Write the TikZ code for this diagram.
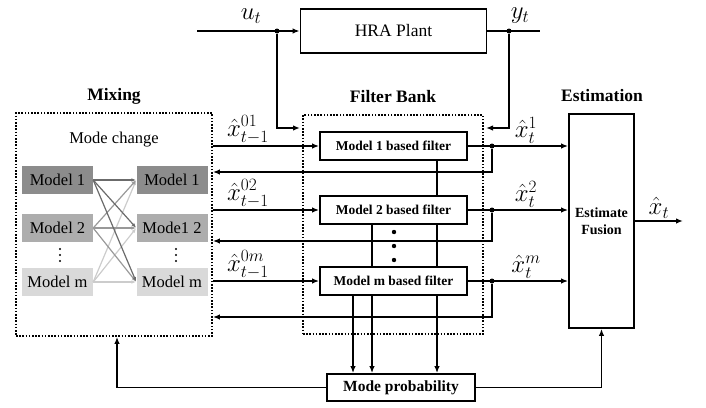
\documentclass[tikz,border=0pt]{standalone}
\usepackage{fontspec}
\setmainfont{Liberation Serif}
\usetikzlibrary{arrows.meta}

\begin{document}
\begin{tikzpicture}[
    x=1pt, y=-1pt,
    block/.style={
        rectangle,
        draw=black,
        line width=1.8pt,
        inner sep=0pt
    },
    filter/.style={
        block,
        minimum width=147pt,
        minimum height=28pt,
        font=\fontsize{13.5}{15}\selectfont\bfseries
    },
    model/.style={
        rectangle,
        minimum width=71pt,
        minimum height=28pt,
        inner sep=0pt,
        font=\fontsize{16.5}{18}\selectfont
    },
    group/.style={
        rectangle,
        draw=black,
        line width=1.8pt,
        dash pattern=on 1.6pt off 1.6pt,
        inner sep=0pt
    },
    heading/.style={font=\fontsize{17.5}{19}\selectfont\bfseries},
    signal/.style={font=\fontsize{24}{26}\selectfont, inner sep=1.5pt},
    line/.style={line width=1.8pt},
    arrow/.style={
        -{Latex[length=7pt,width=5.5pt]},
        line width=1.8pt
    },
    mix/.style={
        -{Latex[length=5pt,width=3.5pt]},
        line width=1.2pt
    },
    junction/.style={circle, fill=black, inner sep=0pt, minimum size=5pt}
]
\useasboundingbox (0,0) rectangle (706,407);

% Plant
\node[block, minimum width=186pt, minimum height=44pt, font=\fontsize{17.5}{19}\selectfont] (plant) at (393.5,31) {HRA Plant};
\coordinate (uin) at (197,31);
\coordinate (yout) at (540,31);
\node[junction] (ju) at (277,31) {};
\node[junction] (jy) at (509,31) {};
\node[signal, inner sep=0pt] (ulabel) at (251,16) {$u_t$};
\node[signal, inner sep=0pt] (ylabel) at (520,16) {$y_t$};

% Groups
\node[group, minimum width=196pt, minimum height=223pt] (mixing) at (114,224.5) {};
\node[group, minimum width=180pt, minimum height=219pt] (bank) at (393,224.5) {};
\node[heading] (mixtitle) at (114,96) {Mixing};
\node[heading] (banktitle) at (393,97) {Filter Bank};
\node[heading] (esttitle) at (602,96) {Estimation};
\node[font=\fontsize{16.5}{18}\selectfont] (modechange) at (114,140) {Mode change};

% Models
\node[model, fill=black!45] (l1) at (57.5,180) {Model 1};
\node[model, fill=black!32] (l2) at (57.5,228) {Model 2};
\node[model, fill=black!15] (lm) at (57.5,282) {Model m};
\node[model, fill=black!45] (r1) at (172,180) {Model 1};
\node[model, fill=black!32] (r2) at (172,228) {Mode1 2};
\node[model, fill=black!15] (rm) at (172,282) {Model m};
\foreach \y in {249,255,261} {
    \fill (60,\y) circle (1.1pt);
    \fill (176,\y) circle (1.1pt);
}

% Filters
\node[filter] (f1) at (393.5,146) {Model 1 based filter};
\node[filter] (f2) at (393.5,210) {Model 2 based filter};
\node[filter] (fm) at (393.5,281) {Model m based filter};
\foreach \y in {232,246,260}
    \fill (394,\y) circle (2.2pt);

% Estimation and mode probability
\node[block, minimum width=65pt, minimum height=214pt, align=center, font=\fontsize{14}{16.5}\selectfont\bfseries] (est) at (601.5,221) {Estimate\\Fusion};
\node[block, minimum width=148pt, minimum height=27pt, font=\fontsize{15.5}{17}\selectfont\bfseries] (prob) at (401,387.5) {Mode probability};
\coordinate (xout) at (683,221);

% Mode change arrows
\foreach \s/\c in {lm/black!20, l2/black!40, l1/black!58}
    \foreach \t in {r1,r2,rm}
        \draw[mix, draw=\c] (\s.east) -- (\t.west);

% Plant arrows
\draw[arrow] (uin) -- (plant.west);
\draw[line] (plant.east) -- (yout);
\draw[arrow] (ju) |- (300,128);
\draw[arrow] (jy) |- (486,128);

% Filter inputs and outputs
\draw[arrow] (mixing.east |- f1) -- (f1) node[signal, above, pos=0.33] {$\hat{x}^{01}_{t-1}$};
\draw[arrow] (mixing.east |- f2) -- (f2) node[signal, above, pos=0.33] {$\hat{x}^{02}_{t-1}$};
\draw[arrow] (mixing.east |- fm) -- (fm) node[signal, above, pos=0.33] {$\hat{x}^{0m}_{t-1}$};
\draw[arrow] (f1) -- (est.west |- f1) node[signal, above, pos=0.58] {$\hat{x}^1_t$};
\draw[arrow] (f2) -- (est.west |- f2) node[signal, above, pos=0.58] {$\hat{x}^2_t$};
\draw[arrow] (fm) -- (est.west |- fm) node[signal, above, pos=0.58] {$\hat{x}^m_t$};
\node[junction] (j1) at (492,146) {};
\node[junction] (j2) at (492,210) {};
\node[junction] (jm) at (492,281) {};
\draw[arrow] (j1) |- (mixing.east |- 0,172);
\draw[arrow] (j2) |- (mixing.east |- 0,241);
\draw[arrow] (jm) |- (mixing.east |- 0,317);
\draw[arrow] (est.east) -- (xout) node[signal, above, midway] {$\hat{x}_t$};

% Probability links
\draw[line] (f1.south -| 437,0) -- (f2.north -| 437,0);
\draw[line] (f2.south -| 372,0) -- (fm.north -| 372,0);
\draw[line] (f2.south -| 437,0) -- (fm.north -| 437,0);
\foreach \x in {353,372,437}
    \draw[arrow] (fm.south -| \x,0) -- (prob.north -| \x,0);
\draw[arrow] (prob.west) -| (mixing.south -| 117,0);
\draw[arrow] (prob.east) -| (est.south);

\end{tikzpicture}
\end{document}
